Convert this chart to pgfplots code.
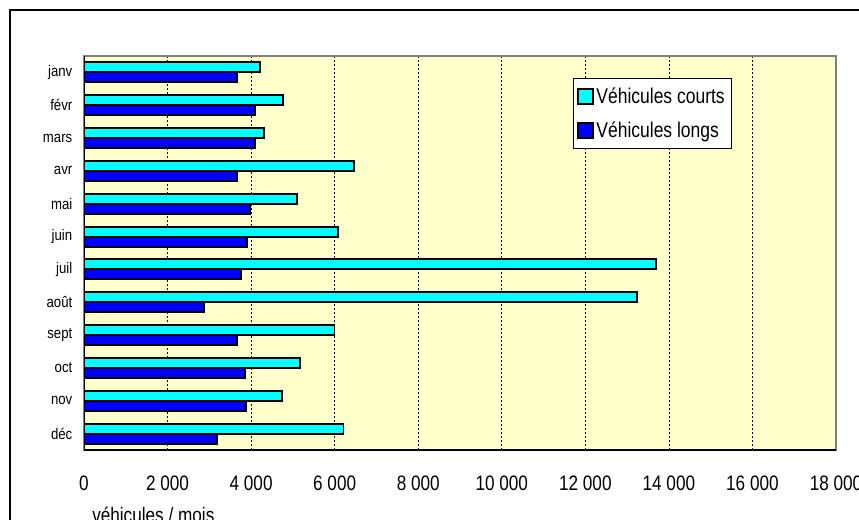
\documentclass[border=0pt]{standalone}
\usepackage{pgfplots}
\pgfplotsset{compat=1.18}
\usepackage{fontspec}
\setmainfont[FakeStretch=0.82]{Liberation Sans}
\newfontfamily\monthfont[FakeStretch=0.86]{Liberation Sans}
\definecolor{bgyellow}{HTML}{FFFFCC}
\definecolor{courts}{HTML}{00FFFF}
\definecolor{longs}{HTML}{0000FF}
\begin{document}
\begin{tikzpicture}[x=0.75pt,y=0.75pt]
\path[use as bounding box] (0,0) rectangle (859,520);
\draw[line width=1.4pt] (10,-20) rectangle (880,510);
\begin{axis}[
  at={(63pt,52.5pt)}, anchor=south west,
  scale only axis, width=564pt, height=295.5pt,
  xmin=0, xmax=18000, ymin=-0.5, ymax=11.5, y dir=reverse,
  xbar, bar width=7.5pt,
  xtick={0,2000,4000,6000,8000,10000,12000,14000,16000,18000},
  xticklabels={0,2 000,4 000,6 000,8 000,10 000,12 000,14 000,16 000,18 000},
  ytick={0,1,2,3,4,5,6,7,8,9,10,11},
  yticklabels={janv,févr,mars,avr,mai,juin,juil,août,sept,oct,nov,déc},
  xticklabel style={font=\fontsize{15.7pt}{18pt}\selectfont, yshift=-16pt},
  yticklabel style={font=\monthfont\fontsize{11.5pt}{13pt}\selectfont, xshift=-1pt},
  axis background/.style={fill=bgyellow},
  xmajorgrids, grid style={black, line width=0.5pt, dash pattern=on 1.8pt off 1.2pt},
  major tick style={draw=none},
  axis line style={draw=gray, line width=1.4pt},
  legend style={at={(axis description cs:0.650,0.944)}, anchor=north west,
    draw=black, fill=white, line width=0.6pt, font=\fontsize{16pt}{18pt}\selectfont,
    inner xsep=3pt, inner ysep=5pt, row sep=8pt, legend cell align=left},
  legend image code/.code={\draw[#1, line width=1.4pt] (0pt,-5.5pt) rectangle (11pt,5.5pt);},
]
\addplot[fill=courts, draw=black, line width=1.4pt, bar shift=3.75pt] coordinates {
(4220,0) (4770,1) (4310,2) (6460,3) (5100,4) (6090,5)
(13690,6) (13230,7) (5995,8) (5165,9) (4740,10) (6210,11)};
\addlegendentry{Véhicules courts}
\addplot[fill=longs, draw=black, line width=1.4pt, bar shift=-3.75pt] coordinates {
(3660,0) (4095,1) (4095,2) (3660,3) (3965,4) (3910,5)
(3750,6) (2865,7) (3660,8) (3855,9) (3880,10) (3175,11)};
\addlegendentry{Véhicules longs}
\draw[black, line width=1.4pt] (axis description cs:0,1) -- (axis description cs:0,0) -- (axis description cs:1,0);
\end{axis}
\node[anchor=base west, inner sep=0pt, font=\fontsize{15.7pt}{18pt}\selectfont] at (92,-3) {véhicules / mois};
\end{tikzpicture}
\end{document}
